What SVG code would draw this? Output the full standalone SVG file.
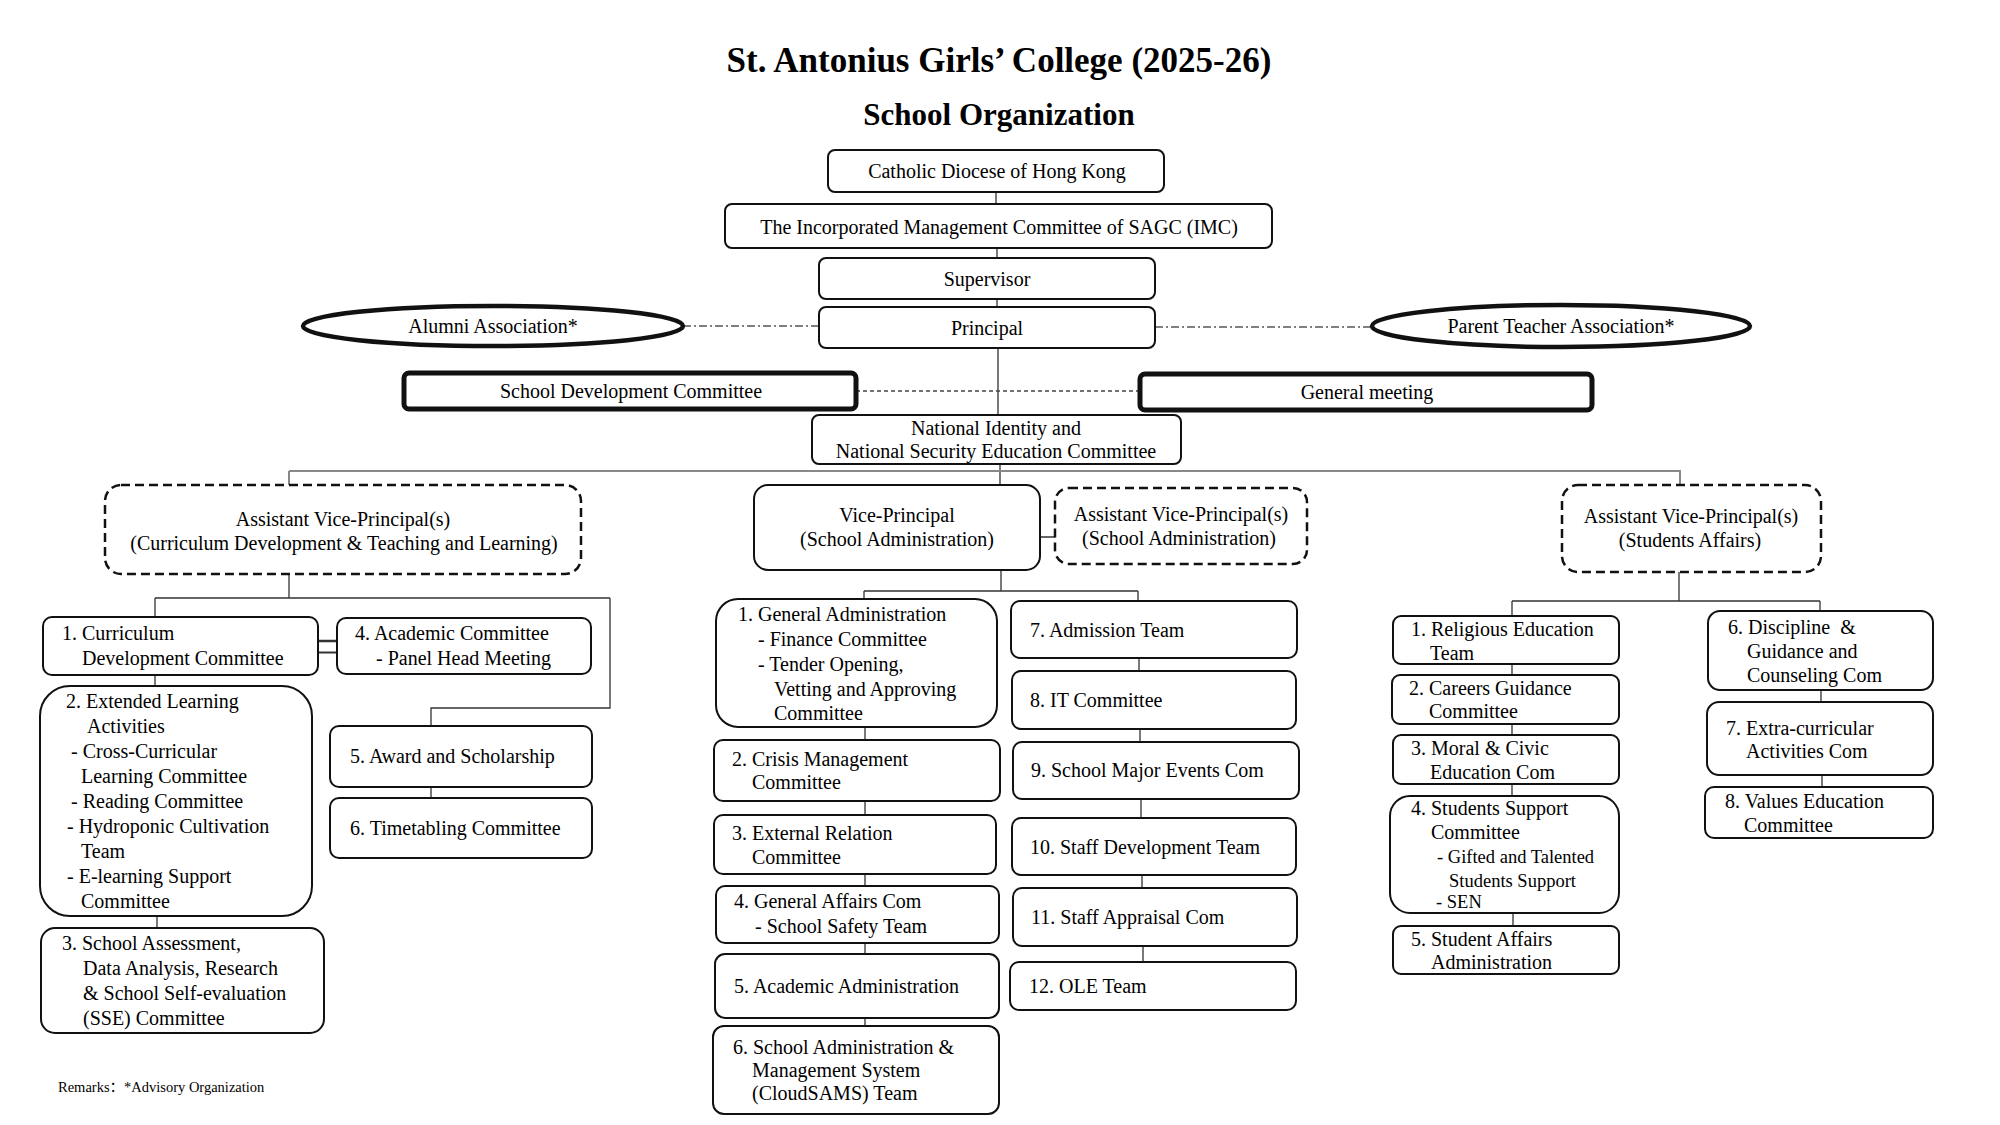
<svg xmlns="http://www.w3.org/2000/svg" width="2000" height="1125" viewBox="0 0 2000 1125">
<style>
.b{fill:#fff;stroke:#111;stroke-width:2}
.d{fill:#fff;stroke:#111;stroke-width:2.5;stroke-dasharray:9 5}
.k{fill:#fff;stroke:#111;stroke-width:5}
.e{fill:#fff;stroke:#111;stroke-width:4.5}
.t{font-family:'Liberation Serif','Times New Roman','Noto Sans CJK SC',serif;font-size:20px;fill:#000}
.s{font-size:18.5px}
.m{text-anchor:middle}
.h1{font-size:35px;font-weight:bold}
.h2{font-size:31px;font-weight:bold}
.ln{stroke:#333;stroke-width:1.3;fill:none}
.hl{stroke:#888;stroke-width:2;fill:none}
.dd{stroke:#555;stroke-width:1.5;fill:none;stroke-dasharray:8 3 2 3}
.dl{stroke:#444;stroke-width:1.3;fill:none;stroke-dasharray:4 3}
</style>
<rect width="2000" height="1125" fill="#fff"/>
<g id="connectors">
<path class="ln" d="M996,192V204M997,248V258M997,299V307M998,348V415M1000,464V485"/>
<path class="dd" d="M683,326H819M1155,327H1371"/>
<path class="dl" d="M856,391H1140"/>
<path class="hl" d="M289,471H1681M289,471V485M1680,471V485"/>
<path class="ln" d="M289,574V598M155,598H610M155,598V617M610,598V708H431V726M155,675V686M157,916V928M431,787V798"/>
<path class="ln" d="M318,641H337" style="stroke-width:2.5"/>
<path class="ln" d="M318,652.5H337" style="stroke-width:2"/>
<path class="ln" d="M1040,537H1055M1001,570V591M864,591H1138M864,591V599M1138,591V601M865,727V740M865,801V815M865,874V886M865,943V954M865,1018V1026M1139,658V671M1140,729V742M1141,799V818M1142,875V888M1143,946V962"/>
<path class="ln" d="M1679,572V601M1512,601H1820M1512,601V616M1820,601V611M1512,664V675M1512,724V735M1512,784V796M1513,913V926M1821,690V702M1822,775V787"/>
</g>
<g id="title"><text class="t m h1" x="999" y="72">St. Antonius Girls’ College (2025-26)</text></g>
<g id="subtitle"><text class="t m h2" x="999" y="125">School Organization</text></g>
<g id="catholic"><rect class="b" x="828" y="150" width="336" height="42" rx="7"/><text class="t m" x="997" y="178">Catholic Diocese of Hong Kong</text></g>
<g id="imc"><rect class="b" x="725" y="204" width="547" height="44" rx="7"/><text class="t m" x="999" y="234">The Incorporated Management Committee of SAGC (IMC)</text></g>
<g id="supervisor"><rect class="b" x="819" y="258" width="336" height="41" rx="7"/><text class="t m" x="987" y="286">Supervisor</text></g>
<g id="principal"><rect class="b" x="819" y="307" width="336" height="41" rx="7"/><text class="t m" x="987" y="335">Principal</text></g>
<g id="alumni"><ellipse class="e" cx="493" cy="326" rx="190" ry="20"/><text class="t m" x="493" y="333">Alumni Association*</text></g>
<g id="pta"><ellipse class="e" cx="1561" cy="326" rx="189" ry="21"/><text class="t m" x="1561" y="333">Parent Teacher Association*</text></g>
<g id="sdc"><rect class="k" x="404" y="373" width="452" height="36" rx="5"/><text class="t m" x="631" y="398">School Development Committee</text></g>
<g id="gm"><rect class="k" x="1140" y="374" width="452" height="36" rx="5"/><text class="t m" x="1367" y="399">General meeting</text></g>
<g id="ni"><rect class="b" x="812" y="415" width="369" height="49" rx="7"/><text class="t m" x="996" y="435">National Identity and</text><text class="t m" x="996" y="458">National Security Education Committee</text></g>
<g id="avp-cd"><rect class="d" x="105" y="485" width="476" height="89" rx="16"/><text class="t m" x="343" y="526">Assistant Vice-Principal(s)</text><text class="t m" x="344" y="550">(Curriculum Development &amp; Teaching and Learning)</text></g>
<g id="l1"><rect class="b" x="43" y="617" width="275" height="58" rx="9"/><text class="t" x="62" y="640">1. Curriculum</text><text class="t" x="82" y="665">Development Committee</text></g>
<g id="l4"><rect class="b" x="337" y="618" width="254" height="56" rx="9"/><text class="t" x="355" y="640">4. Academic Committee</text><text class="t" x="376" y="665">- Panel Head Meeting</text></g>
<g id="l2"><rect class="b" x="40" y="686" width="272" height="230" rx="30"/>
<text class="t" x="66" y="708">2. Extended Learning</text>
<text class="t" x="87" y="733">Activities</text>
<text class="t" x="71" y="758">- Cross-Curricular</text>
<text class="t" x="81" y="783">Learning Committee</text>
<text class="t" x="71" y="808">- Reading Committee</text>
<text class="t" x="67" y="833">- Hydroponic Cultivation</text>
<text class="t" x="81" y="858">Team</text>
<text class="t" x="67" y="883">- E-learning Support</text>
<text class="t" x="81" y="908">Committee</text></g>
<g id="l3"><rect class="b" x="41" y="928" width="283" height="105" rx="14"/>
<text class="t" x="62" y="950">3. School Assessment,</text>
<text class="t" x="83" y="975">Data Analysis, Research</text>
<text class="t" x="83" y="1000">&amp; School Self-evaluation</text>
<text class="t" x="83" y="1025">(SSE) Committee</text></g>
<g id="l5"><rect class="b" x="330" y="726" width="262" height="61" rx="9"/><text class="t" x="350" y="763">5. Award and Scholarship</text></g>
<g id="l6"><rect class="b" x="330" y="798" width="262" height="60" rx="9"/><text class="t" x="350" y="835">6. Timetabling Committee</text></g>
<g id="remarks"><text class="t" x="58" y="1092" style="font-size:14.5px">Remarks：*Advisory Organization</text></g>
<g id="vp"><rect class="b" x="754" y="485" width="286" height="85" rx="14"/><text class="t m" x="897" y="522">Vice-Principal</text><text class="t m" x="897" y="546">(School Administration)</text></g>
<g id="avp-sa"><rect class="d" x="1055" y="488" width="252" height="76" rx="14"/><text class="t m" x="1181" y="521">Assistant Vice-Principal(s)</text><text class="t m" x="1179" y="545">(School Administration)</text></g>
<g id="m1"><rect class="b" x="716" y="599" width="281" height="128" rx="22"/>
<text class="t" x="738" y="621">1. General Administration</text>
<text class="t" x="758" y="646">- Finance Committee</text>
<text class="t" x="758" y="671">- Tender Opening,</text>
<text class="t" x="774" y="696">Vetting and Approving</text>
<text class="t" x="774" y="720">Committee</text></g>
<g id="m2"><rect class="b" x="714" y="740" width="286" height="61" rx="9"/><text class="t" x="732" y="766">2. Crisis Management</text><text class="t" x="752" y="789">Committee</text></g>
<g id="m3"><rect class="b" x="714" y="815" width="282" height="59" rx="9"/><text class="t" x="732" y="840">3. External Relation</text><text class="t" x="752" y="864">Committee</text></g>
<g id="m4"><rect class="b" x="716" y="886" width="283" height="57" rx="9"/><text class="t" x="734" y="908">4. General Affairs Com</text><text class="t" x="755" y="933">- School Safety Team</text></g>
<g id="m5"><rect class="b" x="715" y="954" width="284" height="64" rx="10"/><text class="t" x="734" y="993">5. Academic Administration</text></g>
<g id="m6"><rect class="b" x="713" y="1026" width="286" height="88" rx="11"/><text class="t" x="733" y="1054">6. School Administration &amp;</text><text class="t" x="752" y="1077">Management System</text><text class="t" x="752" y="1100">(CloudSAMS) Team</text></g>
<g id="m7"><rect class="b" x="1011" y="601" width="286" height="57" rx="9"/><text class="t" x="1030" y="637">7. Admission Team</text></g>
<g id="m8"><rect class="b" x="1012" y="671" width="284" height="58" rx="9"/><text class="t" x="1030" y="707">8. IT Committee</text></g>
<g id="m9"><rect class="b" x="1013" y="742" width="286" height="57" rx="9"/><text class="t" x="1031" y="777">9. School Major Events Com</text></g>
<g id="m10"><rect class="b" x="1012" y="818" width="284" height="57" rx="9"/><text class="t" x="1030" y="854">10. Staff Development Team</text></g>
<g id="m11"><rect class="b" x="1013" y="888" width="284" height="58" rx="9"/><text class="t" x="1031" y="924">11. Staff Appraisal Com</text></g>
<g id="m12"><rect class="b" x="1010" y="962" width="286" height="48" rx="9"/><text class="t" x="1029" y="993">12. OLE Team</text></g>
<g id="avp-st"><rect class="d" x="1562" y="485" width="259" height="87" rx="16"/><text class="t m" x="1691" y="523">Assistant Vice-Principal(s)</text><text class="t m" x="1690" y="547">(Students Affairs)</text></g>
<g id="r1"><rect class="b" x="1393" y="616" width="226" height="48" rx="8"/><text class="t" x="1411" y="636">1. Religious Education</text><text class="t" x="1430" y="660">Team</text></g>
<g id="r2"><rect class="b" x="1392" y="675" width="227" height="49" rx="8"/><text class="t" x="1409" y="695">2. Careers Guidance</text><text class="t" x="1429" y="718">Committee</text></g>
<g id="r3"><rect class="b" x="1393" y="735" width="226" height="49" rx="8"/><text class="t" x="1411" y="755">3. Moral &amp; Civic</text><text class="t" x="1430" y="779">Education Com</text></g>
<g id="r4"><rect class="b" x="1390" y="796" width="229" height="117" rx="20"/>
<text class="t" x="1411" y="815">4. Students Support</text>
<text class="t" x="1431" y="839">Committee</text>
<text class="t s" x="1437" y="863">- Gifted and Talented</text>
<text class="t s" x="1449" y="887">Students Support</text>
<text class="t s" x="1436" y="908">- SEN</text></g>
<g id="r5"><rect class="b" x="1393" y="926" width="226" height="48" rx="8"/><text class="t" x="1411" y="946">5. Student Affairs</text><text class="t" x="1431" y="969">Administration</text></g>
<g id="r6"><rect class="b" x="1708" y="611" width="225" height="79" rx="12"/><text class="t" x="1728" y="634" style="white-space:pre">6. Discipline  &amp;</text><text class="t" x="1747" y="658">Guidance and</text><text class="t" x="1747" y="682">Counseling Com</text></g>
<g id="r7"><rect class="b" x="1707" y="702" width="226" height="73" rx="12"/><text class="t" x="1726" y="735">7. Extra-curricular</text><text class="t" x="1746" y="758">Activities Com</text></g>
<g id="r8"><rect class="b" x="1705" y="787" width="228" height="51" rx="9"/><text class="t" x="1725" y="808">8. Values Education</text><text class="t" x="1744" y="832">Committee</text></g>
</svg>
